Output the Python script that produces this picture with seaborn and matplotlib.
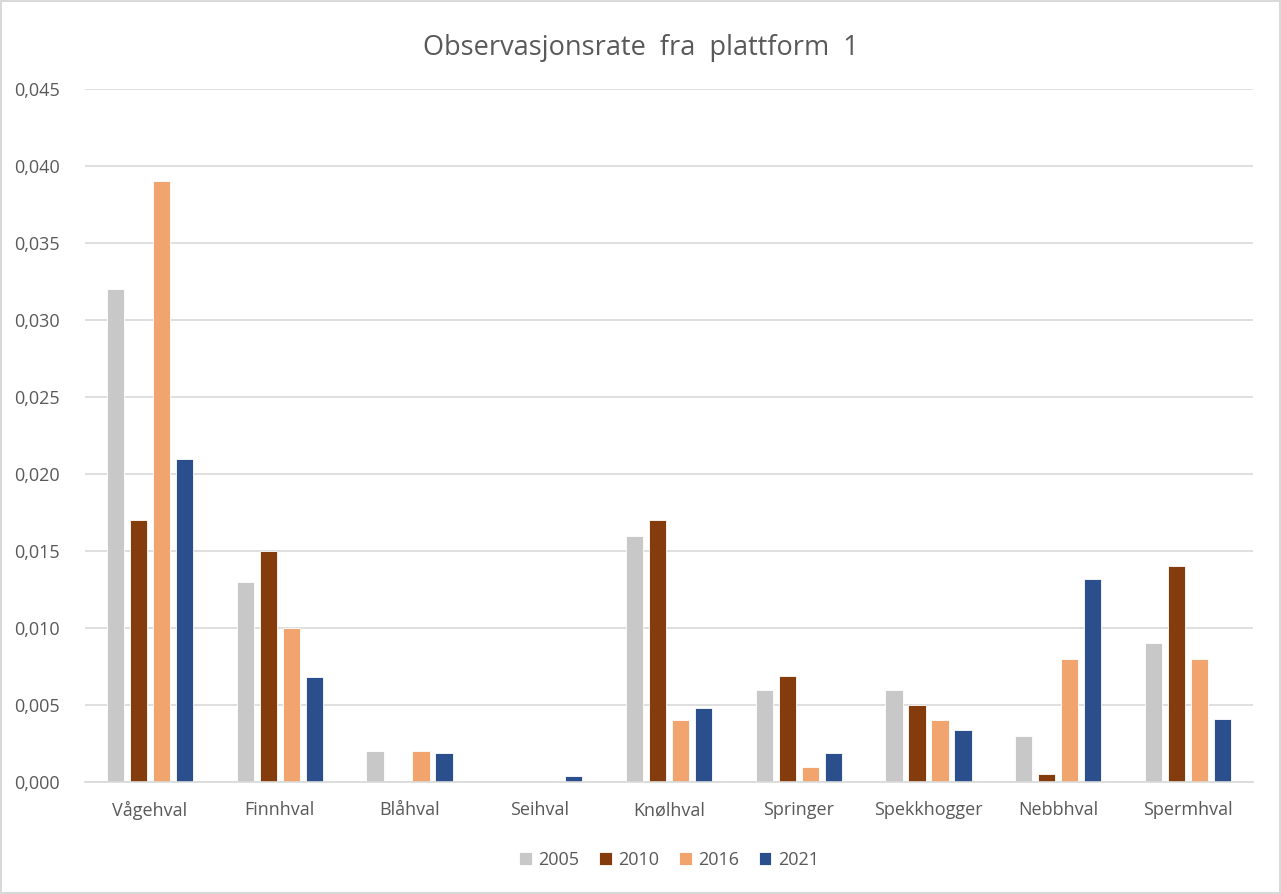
import matplotlib.pyplot as plt
from matplotlib.ticker import FuncFormatter
import seaborn as sns
import pandas as pd

# Data
arter = ['Vågehval', 'Finnhval', 'Blåhval', 'Seihval', 'Knølhval',
         'Springer', 'Spekkhogger', 'Nebbhval', 'Spermhval']
aar = ['2005', '2010', '2016', '2021']
rate_2005 = [0.032, 0.013, 0.002, 0.0, 0.016, 0.006, 0.006, 0.003, 0.009]
rate_2010 = [0.017, 0.015, 0.0, 0.0, 0.017, 0.0069, 0.005, 0.0005, 0.014]
rate_2016 = [0.039, 0.010, 0.002, 0.0, 0.004, 0.001, 0.004, 0.008, 0.008]
rate_2021 = [0.021, 0.0068, 0.0019, 0.0004, 0.0048, 0.0019, 0.0034, 0.0132, 0.0041]
farger = ['#C8C8C8', '#843C0C', '#F2A46E', '#2A4F8C']

sns.set_theme(style='white')
plt.rcParams['font.family'] = ['Open Sans', 'DejaVu Sans']

rows = []
for yr, vals in zip(aar, [rate_2005, rate_2010, rate_2016, rate_2021]):
    for art, v in zip(arter, vals):
        rows.append({'Art': art, 'År': yr, 'Rate': v})
df = pd.DataFrame(rows)

fig = plt.figure(figsize=(12.81, 8.94), dpi=100)
fig.patch.set_edgecolor('#D9D9D9')
fig.patch.set_linewidth(1.5)
ax = fig.add_axes([0.0664, 0.1253, 0.9116, 0.7751])

sns.barplot(data=df, x='Art', y='Rate', hue='År', hue_order=aar,
            palette=farger, saturation=1, width=0.71, gap=0.25,
            edgecolor='white', linewidth=0.6, ax=ax)

ax.set_ylim(0, 0.045)
ax.set_yticks([i * 0.005 for i in range(10)])
ax.yaxis.set_major_formatter(FuncFormatter(lambda v, p: f'{v:.3f}'.replace('.', ',')))
ax.set_xlim(-0.5, len(arter) - 0.5)
ax.grid(axis='y', color='#D9D9D9', linewidth=1.2)
ax.set_axisbelow(True)
for s in ['top', 'right', 'left']:
    ax.spines[s].set_visible(False)
ax.spines['bottom'].set_color('#D9D9D9')
ax.spines['bottom'].set_linewidth(1.2)
ax.tick_params(axis='both', length=0, labelsize=13, colors='#595959')
ax.tick_params(axis='x', pad=14)
ax.tick_params(axis='y', pad=18)
ax.set_xlabel('')
ax.set_ylabel('')

fig.suptitle('Observasjonsrate  fra  plattform  1', y=0.962, fontsize=19.5,
             color='#595959')

ax.legend(loc='upper center', bbox_to_anchor=(0.5, -0.076), ncol=4,
          frameon=False, fontsize=13, handlelength=0.7, handleheight=0.7,
          handletextpad=0.35, columnspacing=1.1, labelcolor='#595959')

fig.savefig('out.png', dpi=100)
